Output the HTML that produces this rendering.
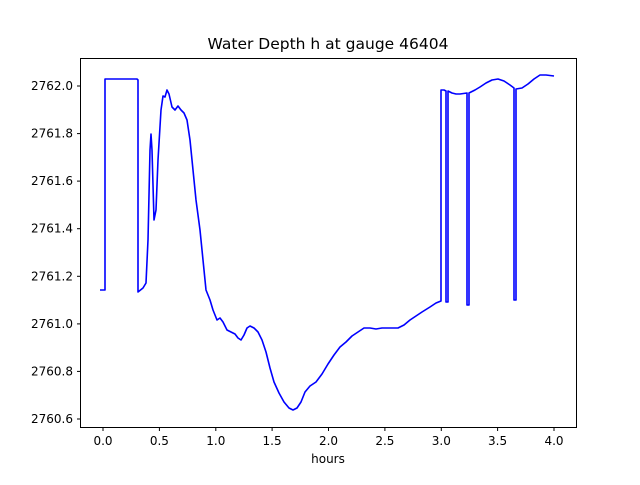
<!DOCTYPE html>
<html><head><style>body{margin:0;background:#fff}svg text{font-family:"DejaVu Sans","Liberation Sans",sans-serif}</style></head>
<body>
<svg width="640" height="480" viewBox="0 0 640 480" xmlns="http://www.w3.org/2000/svg">
<rect width="640" height="480" fill="#fff"/>
<text x="328" y="49" font-size="15.5" text-anchor="middle">Water Depth h at gauge 46404</text>
<polyline fill="none" stroke="#0000ff" stroke-width="1.6" stroke-linejoin="round" points="
100,290 105,290 105,79 137,79 138,80 138,292 143,288 146,283 148,240 150,150 151,134 152,150 154,220 156,210 158,160 161,110 163,96 165,97 167,90 169,94 172,107 175,110 178,106 181,110 184,113 187,120 190,140 193,170 196,200 200,230 203,260 206,290 210,300 213,310 217,320 220,318 223,322 227,330 231,332 235,334 238,338 241,340 244,335 247,328 250,326 254,328 258,332 262,340 266,352 270,368 274,382 279,393 284,402 289,408 293,410 297,408 301,402 305,392 310,386 316,382 322,374 328,364 334,355 340,347 346,342 352,336 358,332 364,328 370,328 376,329 382,328 390,328 398,328 404,325 410,320 416,316 422,312 430,307 436,303 441,301 441,90 444,90 446,91 446,302 448,302 448,91 452,93 456,94 460,94 467,93 467,305 469,305 469,93 475,90 480,87 486,83 492,80 498,79 504,81 510,85 514,88 514,300 516,300 516,89 522,88 528,84 534,79 540,75 546,75 554,76"/>
<rect x="80.5" y="58.5" width="496" height="369" fill="none" stroke="#000" stroke-width="1"/>
<g stroke="#000" stroke-width="1">
<line x1="103" y1="427.5" x2="103" y2="431"/><line x1="159.4" y1="427.5" x2="159.4" y2="431"/><line x1="215.8" y1="427.5" x2="215.8" y2="431"/><line x1="272.1" y1="427.5" x2="272.1" y2="431"/><line x1="328.5" y1="427.5" x2="328.5" y2="431"/><line x1="384.9" y1="427.5" x2="384.9" y2="431"/><line x1="441.3" y1="427.5" x2="441.3" y2="431"/><line x1="497.6" y1="427.5" x2="497.6" y2="431"/><line x1="554" y1="427.5" x2="554" y2="431"/>
<line x1="77" y1="419" x2="80.5" y2="419"/><line x1="77" y1="371.4" x2="80.5" y2="371.4"/><line x1="77" y1="323.9" x2="80.5" y2="323.9"/><line x1="77" y1="276.3" x2="80.5" y2="276.3"/><line x1="77" y1="228.7" x2="80.5" y2="228.7"/><line x1="77" y1="181.1" x2="80.5" y2="181.1"/><line x1="77" y1="133.6" x2="80.5" y2="133.6"/><line x1="77" y1="86" x2="80.5" y2="86"/>
</g>
<g font-size="12" text-anchor="middle">
<text x="103" y="445">0.0</text><text x="159.4" y="445">0.5</text><text x="215.8" y="445">1.0</text><text x="272.1" y="445">1.5</text><text x="328.5" y="445">2.0</text><text x="384.9" y="445">2.5</text><text x="441.3" y="445">3.0</text><text x="497.6" y="445">3.5</text><text x="554" y="445">4.0</text>
<text x="328" y="463">hours</text>
</g>
<g font-size="12" text-anchor="end">
<text x="73" y="423">2760.6</text><text x="73" y="375.4">2760.8</text><text x="73" y="327.9">2761.0</text><text x="73" y="280.3">2761.2</text><text x="73" y="232.7">2761.4</text><text x="73" y="185.1">2761.6</text><text x="73" y="137.6">2761.8</text><text x="73" y="90">2762.0</text>
</g>
</svg>
</body></html>
